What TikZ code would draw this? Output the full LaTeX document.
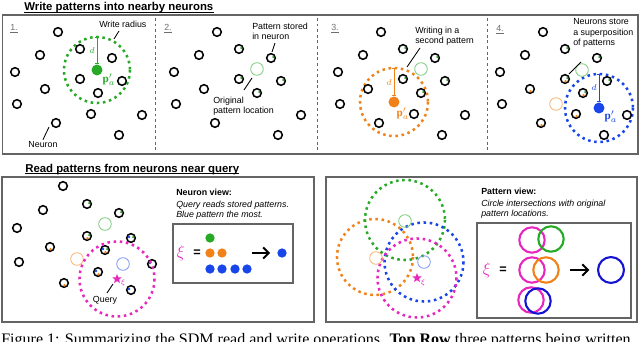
\documentclass[tikz,border=0pt]{standalone}
\usepackage{fontspec}
\setmainfont{Liberation Serif}
\setsansfont{Liberation Sans}
\usetikzlibrary{arrows.meta,positioning,shapes.geometric}

\definecolor{sdmgreen}{RGB}{38,170,38}
\definecolor{sdmorange}{RGB}{240,130,25}
\definecolor{sdmblue}{RGB}{25,70,235}
\definecolor{venblue}{RGB}{20,20,210}
\definecolor{sdmpink}{RGB}{230,40,190}
\definecolor{framegray}{RGB}{100,100,100}
\definecolor{numgray}{RGB}{110,110,110}

\newcommand{\notefont}{\sffamily\fontsize{6.3}{7.4}\selectfont}
\newcommand{\titlefont}{\sffamily\bfseries\fontsize{8.1}{9.7}\selectfont}
\newcommand{\capfont}{\rmfamily\fontsize{11.4}{13}\selectfont}

\begin{document}
\begin{tikzpicture}[x=0.025cm, y=-0.025cm,
    neuron/.style={line width=1.1pt},
    ring/.style={line width=1.8pt, dash pattern=on 1.8pt off 2.6pt},
    origloc/.style={line width=0.6pt},
    pdot/.style={circle, fill=#1, inner sep=0pt, minimum size=7.8pt},
    vdot/.style={circle, fill=#1, inner sep=0pt, minimum size=6.6pt},
    venn/.style={line width=1.5pt},
    leader/.style={line width=0.6pt},
    dline/.style={line width=0.6pt, {Bar[width=3pt]}-{Bar[width=3pt]}},
    frame/.style={draw=framegray, line width=1.1pt},
    divider/.style={draw=framegray, line width=0.7pt, dash pattern=on 2pt off 2pt},
    note/.style={font=\notefont, inner sep=0pt, align=left},
    num/.style={font=\notefont, text=numgray, inner sep=0pt},
    title/.style={font=\titlefont, inner sep=0pt, anchor=base west},
    uline/.style={line width=0.75pt},
    bigarrow/.style={-{Straight Barb[length=4pt,width=8pt]}, line width=1.3pt},
  ]
\useasboundingbox (0,0) rectangle (640,342);

% Titles and frames
\node[title] (wtitle) at (24,10.5) {Write patterns into nearby neurons};
\node[title] (rtitle) at (25,172) {Read patterns from neurons near query};
\draw[uline] ([yshift=-1.4pt]wtitle.base west) -- ([yshift=-1.4pt]wtitle.base east);
\draw[uline] ([yshift=-1.4pt]rtitle.base west) -- ([yshift=-1.4pt]rtitle.base east);
\draw[frame] (2.7,15) rectangle (638,154);
\draw[frame] (2,177) rectangle (314,322);
\draw[frame] (326,177) rectangle (637,322);
\foreach \x in {155,317,487} \draw[divider] (\x,18) -- (\x,152);

% Step numbers
\node[num] (s1) at (14,29) {\underline{1.}};
\node[num] (s2) at (168,29) {\underline{2.}};
\node[num] (s3) at (335,29) {\underline{3.}};
\node[num] (s4) at (500,30) {\underline{4.}};

% Write radii
\draw[ring, sdmgreen] (97,70) circle [radius=33];
\draw[ring, sdmorange] (394,102) circle [radius=34];
\draw[ring, sdmblue] (599,108) circle [radius=34];

% Neurons, same layout in the four write panels
\foreach \ox in {0,159,323,485} {
  \foreach \x/\y in {58/32,40/55,80/49,112/58,15/72,80/79,122/81,45/89,98/93,17/104,142/115,56/123,119/135}
    \draw[neuron] (\ox+\x,\y) circle [radius=4.3];
}
\foreach \ox in {0,323,485} \draw[neuron] (\ox+91,114) circle [radius=4.3];

% Stored patterns
\foreach \ox in {159,323,485} {
  \foreach \x/\y in {80/49,112/58,80/79,122/81,98/93}
    \fill[sdmgreen] (\ox+\x+2.3,\y-1) circle [radius=1.3];
}
\foreach \x/\y in {80/79,45/89,98/93,91/114,56/123}
  \fill[sdmorange] (485+\x+0.5,\y+2.2) circle [radius=1.3];

% Original pattern locations
\draw[origloc, sdmgreen!60] (257,69) circle [radius=6.3];
\draw[origloc, sdmgreen!60] (421,69) circle [radius=6.3];
\draw[origloc, sdmgreen!60] (582,70) circle [radius=6.3];
\draw[origloc, sdmorange!60] (556,104) circle [radius=6.3];

% Pattern being written
\node[pdot=sdmgreen] (pa1) at (97,70) {};
\node[pdot=sdmorange] (pa3) at (394,102) {};
\node[pdot=sdmblue] (pa4) at (599,108) {};
\coordinate (rt1) at (97,37);
\coordinate (rt3) at (394,68);
\coordinate (rt4) at (599,74);
\draw[dline, sdmgreen] (rt1) -- (pa1.north);
\draw[dline, sdmorange] (rt3) -- (pa3.north);
\draw[dline, sdmblue] (rt4) -- (pa4.north);
\node[sdmgreen, inner sep=0pt, font=\fontsize{6}{7}\selectfont] (d1) at (92,51) {$d$};
\node[sdmorange, inner sep=0pt, font=\fontsize{6}{7}\selectfont] (d3) at (389,83) {$d$};
\node[sdmblue, inner sep=0pt, font=\fontsize{6}{7}\selectfont] (d4) at (594,88) {$d$};
\node[sdmgreen, inner sep=0pt, font=\fontsize{8}{9}\selectfont] (p1) at (109,80) {$\mathbf{p}_a'$};
\node[sdmorange, inner sep=0pt, font=\fontsize{8}{9}\selectfont] (p3) at (403,114) {$\mathbf{p}_a'$};
\node[sdmblue, inner sep=0pt, font=\fontsize{8}{9}\selectfont] (p4) at (611,117) {$\mathbf{p}_a'$};

% Notes of the write panels
\node[note, anchor=west] (wrad) at (99,24) {Write radius};
\coordinate (wradtip) at (114,39);
\draw[leader] (119,31) -- (wradtip);
\node[note] (neur) at (43,144) {Neuron};
\coordinate (neurtip) at (49,127);
\draw[leader] (neur.north) ++(0,-1) -- (neurtip);
\node[note, anchor=north west] (stored) at (252,22.7) {Pattern stored\\in neuron};
\coordinate (storedtip) at (272,52);
\draw[leader] (275,43) -- (storedtip);
\node[note, anchor=north west] (orig) at (213,96.7) {Original\\pattern location};
\coordinate (origtip) at (252,78);
\draw[leader] (244,90) -- (origtip);
\node[note, anchor=north west] (second) at (415,26.7) {Writing in a\\second pattern};
\coordinate (secondtip) at (407,67);
\draw[leader] (420,48) -- (secondtip);
\node[note, anchor=north west] (super) at (573,18.4) {Neurons store\\a superposition\\of patterns};
\coordinate (supertip) at (569,74);
\draw[leader] (581,62) -- (supertip);

% Neuron view
\foreach \x/\y in {63/186,43/210,87/204,119/213,17/228,87/236,131/238,50/247,105/250,19/262,98/272,152/264,64/283,131/290}
  \draw[neuron] (\x,\y) circle [radius=4.3];
\foreach \x/\y in {87/204,119/213,87/236,131/238,105/250}
  \fill[sdmgreen] (\x+2.3,\y-1) circle [radius=1.3];
\foreach \x/\y in {87/236,50/247,105/250,98/272,64/283}
  \fill[sdmorange] (\x+0.5,\y+2.2) circle [radius=1.3];
\foreach \x/\y in {131/238,105/250,98/272,152/264,131/290}
  \fill[sdmblue] (\x-2,\y-1) circle [radius=1.3];
\draw[origloc, sdmgreen!60] (105,224) circle [radius=6.3];
\draw[origloc, sdmorange!60] (77,259) circle [radius=6.3];
\draw[origloc, sdmblue!55] (123,264) circle [radius=6.3];
\draw[ring, sdmpink] (117,279) circle [radius=37.5];
\node[star, star points=5, star point ratio=2.3, fill=sdmpink, inner sep=0pt, minimum size=7pt] (q1) at (117,279) {};
\node[sdmpink, inner sep=0pt, font=\fontsize{4}{5}\selectfont] (qx1) at (123,283) {$\xi$};
\node[note, anchor=base] (query) at (105,302) {Query};
\coordinate (querytip) at (113,284);
\draw[leader] (107,293) -- (querytip);

\node[note, anchor=west, font=\notefont\bfseries] (nvhead) at (176,192) {Neuron view:};
\node[note, anchor=north west, font=\notefont\itshape] (nvtext) at (176,200.7) {Query reads stored patterns.\\Blue pattern the most.};
\draw[frame] (173,224) rectangle (293,283);
\node[sdmpink, inner sep=0pt, font=\fontsize{13}{15}\selectfont] (xi1) at (181,253) {$\xi$};
\node[inner sep=0pt, font=\sffamily\bfseries\fontsize{9}{10}\selectfont] (eq1) at (197,253) {=};
\node[vdot=sdmgreen] (g1) at (210,238) {};
\node[vdot=sdmorange] (o1) at (210,253) {};
\node[vdot=sdmorange] (o2) at (222,253) {};
\foreach \x [count=\i] in {210,222,235,247} \node[vdot=sdmblue] (b\i) at (\x,269) {};
\node[vdot=sdmblue] (res1) at (282,253) {};
\coordinate (arr1) at (252,253);
\draw[bigarrow, shorten >=5pt] (arr1) -- (res1.west);

% Pattern view
\draw[ring, sdmorange] (375,257) circle [radius=38];
\draw[ring, sdmgreen] (405,220) circle [radius=40];
\draw[ring, sdmblue] (424,262) circle [radius=39.5];
\draw[ring, sdmpink] (417,278) circle [radius=39.5];
\draw[origloc, sdmgreen!60] (405,221) circle [radius=6.3];
\draw[origloc, sdmorange!60] (376,258) circle [radius=6.3];
\draw[origloc, sdmblue!55] (424,262) circle [radius=6.3];
\node[star, star points=5, star point ratio=2.3, fill=sdmpink, inner sep=0pt, minimum size=7pt] (q2) at (417,278) {};
\node[sdmpink, inner sep=0pt, font=\fontsize{4}{5}\selectfont] (qx2) at (423,283) {$\xi$};

\node[note, anchor=west, font=\notefont\bfseries] (pvhead) at (481,191) {Pattern view:};
\node[note, anchor=north west, font=\notefont\itshape] (pvtext) at (481,199.7) {Circle intersections with original\\pattern locations.};
\draw[frame] (477,223) rectangle (631,318);
\node[sdmpink, inner sep=0pt, font=\fontsize{13}{15}\selectfont] (xi2) at (487,270) {$\xi$};
\node[inner sep=0pt, font=\sffamily\bfseries\fontsize{9}{10}\selectfont] (eq2) at (503,270) {=};
\draw[venn, sdmpink] (532,240) circle [radius=12.7];
\draw[venn, sdmgreen] (551,239) circle [radius=12.7];
\draw[venn, sdmpink] (532,270) circle [radius=12.7];
\draw[venn, sdmorange] (546,270) circle [radius=12.7];
\draw[venn, sdmpink] (531,300) circle [radius=12.7];
\draw[venn, venblue] (538,301) circle [radius=12.7];
\node[circle, draw=venblue, venn, inner sep=0pt, minimum size=18.4pt] (res2) at (611,270) {};
\coordinate (arr2) at (570,270);
\draw[bigarrow, shorten >=5.5pt] (arr2) -- (res2.west);

% Caption, cut by the page edge
\node[anchor=base west, inner sep=0pt, font=\capfont] (cap) at (1,344) {Figure 1: Summarizing the SDM read and write operations. \textbf{Top Row} three patterns being written};
\end{tikzpicture}
\end{document}
